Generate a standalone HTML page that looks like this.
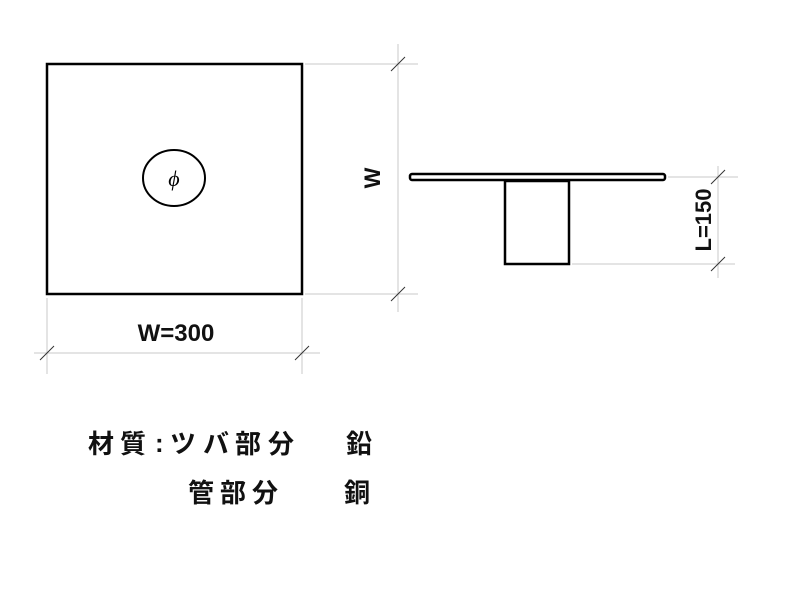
<!DOCTYPE html>
<html><head><meta charset="utf-8"><style>html,body{margin:0;padding:0;background:#fff}svg{display:block}</style></head>
<body>
<svg width="800" height="600" viewBox="0 0 800 600" xmlns="http://www.w3.org/2000/svg">
<g stroke="#c8c8c8" stroke-width="1" fill="none">
<line x1="47" y1="298" x2="47" y2="374"/>
<line x1="302" y1="298" x2="302" y2="374"/>
<line x1="34" y1="353" x2="320" y2="353"/>
<line x1="398" y1="44" x2="398" y2="312"/>
<line x1="305" y1="64" x2="418" y2="64"/>
<line x1="305" y1="294" x2="418" y2="294"/>
<line x1="668" y1="177" x2="738" y2="177"/>
<line x1="572" y1="264" x2="735" y2="264"/>
<line x1="718" y1="166" x2="718" y2="278"/>
</g>
<g stroke="#333" stroke-width="1">
<line x1="40" y1="360" x2="54" y2="346"/>
<line x1="295" y1="360" x2="309" y2="346"/>
<line x1="391" y1="71" x2="405" y2="57"/>
<line x1="391" y1="301" x2="405" y2="287"/>
<line x1="711" y1="184" x2="725" y2="170"/>
<line x1="711" y1="271" x2="725" y2="257"/>
</g>
<g stroke="#000" stroke-width="2.5" fill="none">
<rect x="47" y="64" width="255" height="230"/>
<ellipse cx="174" cy="178" rx="31" ry="28" stroke-width="2"/>
<rect x="410" y="174" width="255" height="6" rx="2"/>
<rect x="505" y="181" width="64" height="83"/>
</g>
<text x="174" y="186" font-family="Liberation Serif, serif" font-style="italic" font-size="22" text-anchor="middle">ϕ</text>
<g font-family="Liberation Sans, sans-serif" font-weight="bold" fill="#111">
<text x="176" y="341" text-anchor="middle" font-size="24">W=300</text>
<text transform="translate(380,178) rotate(-90)" text-anchor="middle" font-size="22">W</text>
<text transform="translate(711,220) rotate(-90)" text-anchor="middle" font-size="22">L=150</text>
</g>
<g font-family="Liberation Sans, 'Noto Sans CJK JP', sans-serif" font-weight="bold" font-size="26" fill="#111">
<text x="88" y="453">材</text><text x="120" y="453">質</text><text x="155" y="452">:</text>
<text x="170" y="453">ツ</text><text x="203" y="453">バ</text><text x="235" y="453">部</text><text x="268" y="453">分</text>
<text x="346" y="453">鉛</text>
<text x="188" y="502">管</text><text x="220" y="502">部</text><text x="252" y="502">分</text>
<text x="344" y="502">銅</text>
</g>
</svg>
</body></html>
